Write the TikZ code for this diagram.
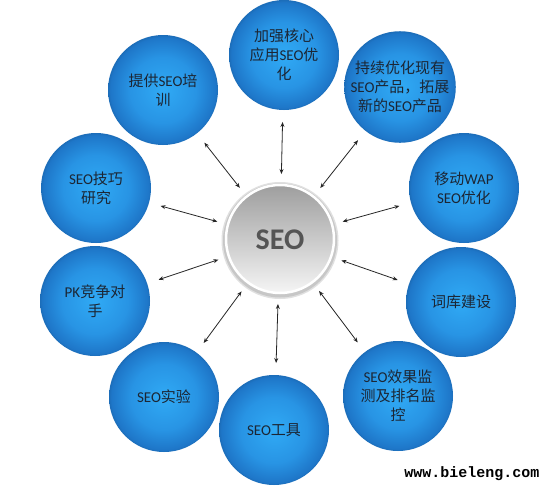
\documentclass[tikz,border=0pt]{standalone}
\usepackage{fontspec}
\setmainfont{Noto Sans CJK SC}
\newfontfamily\lat{Carlito}
\newfontfamily\mono{Liberation Mono}
\usetikzlibrary{arrows.meta}
\definecolor{bc}{RGB}{48,170,245}
\definecolor{bm}{RGB}{40,148,228}
\definecolor{be}{RGB}{30,118,200}
\definecolor{txt}{RGB}{28,38,52}
\definecolor{seogray}{RGB}{85,85,85}
\pgfdeclareradialshading{bubble}{\pgfpoint{0bp}{0bp}}{color(0bp)=(bc);color(15bp)=(bm);color(24bp)=(be);color(25bp)=(be!92!black);color(50bp)=(be!92!black)}
\tikzset{
  bubble/.style={circle, minimum size=110pt, inner sep=0pt, outer sep=0pt, shading=bubble,
    text=txt, align=center, font=\fontsize{15}{19}\selectfont},
  hub/.style={circle, minimum size=108pt, inner sep=0pt, outer sep=0pt,
    top color=black!38, bottom color=black!4, draw=white, line width=2.5pt},
  link/.style={{Stealth[length=5pt,width=4pt]}-{Stealth[length=5pt,width=4pt]}, line width=0.8pt, draw=black!85,
    shorten >=12pt, shorten <=11pt}
}
\begin{document}
\begin{tikzpicture}[x=1pt,y=-1pt]
\useasboundingbox[fill=white] (0,0) rectangle (560,490);
% outer bubbles
\node[bubble] (o1) at (284,55) {加强核心\\应用{\lat SEO}优\\化};
\node[bubble] (o2) at (400,87) {持续优化现有\\{\lat SEO}产品，拓展\\新的{\lat SEO}产品};
\node[bubble] (o3) at (464,188) {移动{\lat WAP}\\{\lat SEO}优化};
\node[bubble] (o4) at (461,302) {词库建设};
\node[bubble] (o5) at (398,396) {{\lat SEO}效果监\\测及排名监\\控};
\node[bubble] (o6) at (274,430) {{\lat SEO}工具};
\node[bubble] (o7) at (164,397) {{\lat SEO}实验};
\node[bubble] (o8) at (95,301) {{\lat PK}竞争对\\手};
\node[bubble] (o9) at (96,188) {{\lat SEO}技巧\\研究};
\node[bubble] (o10) at (163,90) {提供{\lat SEO}培\\训};
% hub
\fill[black!12] (280,240.5) circle (58.5pt);
\fill[black!22] (280,240.5) circle (57pt);
\node[hub] (c) at (280,239) {};
\node[text=seogray, font=\lat\bfseries\fontsize{30}{34}\selectfont] (t) at (280,240) {SEO};
% links
\foreach \o in {o1,o2,o3,o4,o5,o6,o7,o8,o9,o10}
  \draw[link] (c) -- (\o);
% watermark
\node[font=\mono\bfseries\fontsize{15}{17}\selectfont, text=black] (w) at (472,474) {www.bieleng.com};
\end{tikzpicture}
\end{document}
